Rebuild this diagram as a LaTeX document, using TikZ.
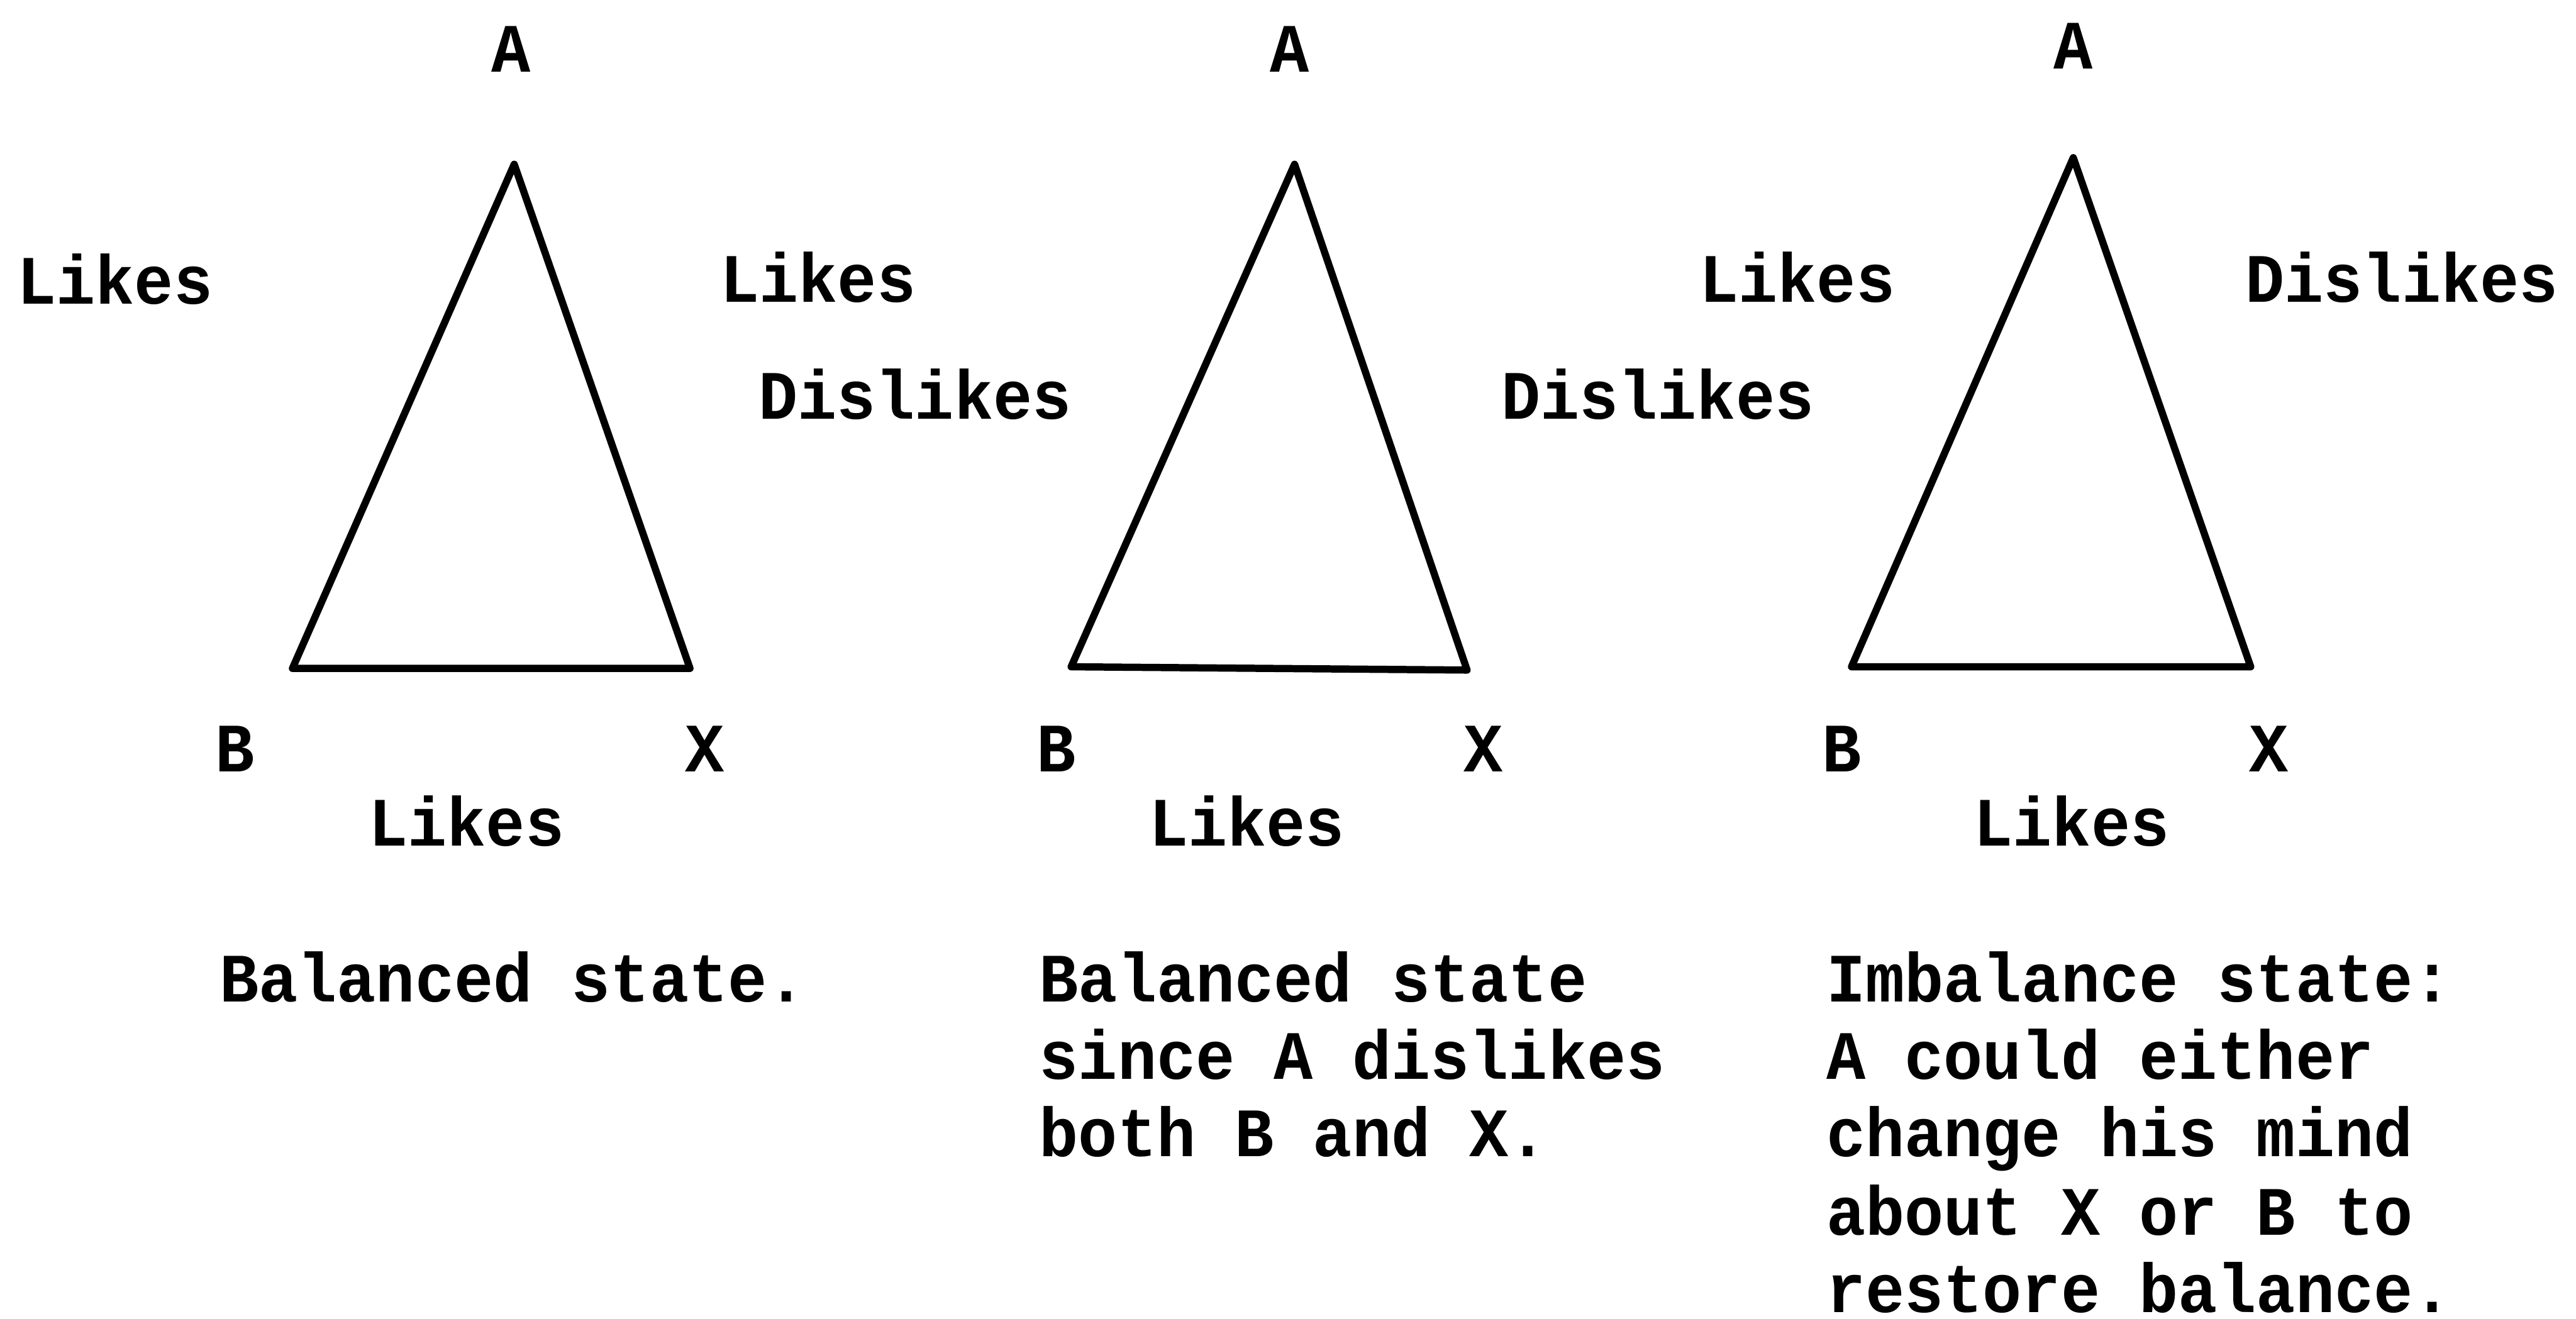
\documentclass[tikz,border=0pt]{standalone}
\usepackage{fontspec}
\newfontfamily\tw{Liberation Mono}[FakeStretch=0.94]
\begin{document}
\begin{tikzpicture}[x=0.01cm,y=-0.01cm,
  edge/.style={line width=1.25pt,line join=round,line cap=round},
  lbl/.style={font=\tw\bfseries\fontsize{12}{13.4}\selectfont,inner sep=0pt,anchor=base},
  captext/.style={font=\tw\bfseries\fontsize{12}{13.4}\selectfont,inner sep=0pt,anchor=base west}]
\useasboundingbox (0,0) rectangle (1568,803);
% triangle 1
\coordinate (a1) at (313,100);
\coordinate (b1) at (178,407);
\coordinate (x1) at (420,407);
\draw[edge] (a1) -- (b1) -- (x1) -- cycle;
% triangle 2
\coordinate (a2) at (788,100);
\coordinate (b2) at (652,406);
\coordinate (x2) at (893,408);
\draw[edge] (a2) -- (b2) -- (x2) -- cycle;
% triangle 3
\coordinate (a3) at (1262,96);
\coordinate (b3) at (1127,406);
\coordinate (x3) at (1370,406);
\draw[edge] (a3) -- (b3) -- (x3) -- cycle;
% labels triangle 1
\node[lbl] (tA1) at (311,44) {A};
\node[lbl] (tL1) at (70,185) {Likes};
\node[lbl] (tR1) at (498,184) {Likes};
\node[lbl] (tB1) at (143,470) {B};
\node[lbl] (tX1) at (429,470) {X};
\node[lbl] (tBot1) at (284,515) {Likes};
% labels triangle 2
\node[lbl] (tA2) at (785,44) {A};
\node[lbl] (tL2) at (557,255) {Dislikes};
\node[lbl] (tR2) at (1009,255) {Dislikes};
\node[lbl] (tB2) at (643,470) {B};
\node[lbl] (tX2) at (903,470) {X};
\node[lbl] (tBot2) at (759,515) {Likes};
% labels triangle 3
\node[lbl] (tA3) at (1262,42) {A};
\node[lbl] (tL3) at (1094,184) {Likes};
\node[lbl] (tR3) at (1462,184) {Dislikes};
\node[lbl] (tB3) at (1121,470) {B};
\node[lbl] (tX3) at (1381,470) {X};
\node[lbl] (tBot3) at (1261,515) {Likes};
% captions
\node[captext] (c1a) at (133,610) {Balanced state.};
\node[captext] (c2a) at (632,610) {Balanced state};
\node[captext] (c2b) at (632,657) {since A dislikes};
\node[captext] (c2c) at (632,704) {both B and X.};
\node[captext] (c3a) at (1111,610) {Imbalance state:};
\node[captext] (c3b) at (1111,657) {A could either};
\node[captext] (c3c) at (1111,704) {change his mind};
\node[captext] (c3d) at (1111,752) {about X or B to};
\node[captext] (c3e) at (1111,799) {restore balance.};
\end{tikzpicture}
\end{document}
